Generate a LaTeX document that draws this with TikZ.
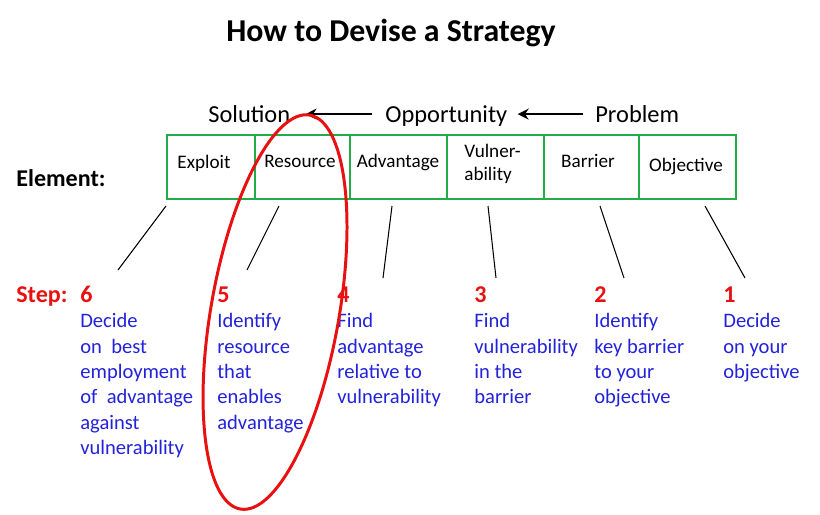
\documentclass[tikz,border=0pt]{standalone}
\usepackage{fontspec}
\setmainfont{Carlito}
\usepackage{tikz}
\usetikzlibrary{arrows.meta}

\definecolor{cellgreen}{RGB}{34,172,72}
\definecolor{stepred}{RGB}{232,16,16}
\definecolor{stepblue}{RGB}{34,34,218}

\tikzset{
  cell/.style={draw=cellgreen, line width=1.4pt, inner sep=0pt,
    anchor=north west, minimum height=12.8mm},
  celltext/.style={inner sep=0pt, anchor=base, font=\fontsize{10.9}{13}\selectfont},
  flow/.style={inner sep=0pt, anchor=base west, text height=11pt, text depth=2pt,
    font=\fontsize{13.9}{16}\selectfont},
  flowarrow/.style={line width=1.1pt, -{Stealth[length=2.2mm,width=2.2mm]}},
  rowlabel/.style={inner sep=0pt, anchor=base west, font=\fontsize{13.7}{16}\selectfont\bfseries},
  stepnum/.style={rowlabel, text=stepred},
  stepdesc/.style={inner sep=0pt, anchor=north west, align=left, text=stepblue,
    font=\fontsize{11.7}{14.45}\selectfont},
  pointer/.style={line width=0.6pt}
}

\begin{document}
\begin{tikzpicture}[x=0.2mm, y=-0.2mm]
  \useasboundingbox (0,0) rectangle (820,514);

  \node[inner sep=0pt, anchor=base, font=\fontsize{18.1}{21}\selectfont\bfseries]
    (title) at (391,41) {How to Devise a Strategy};

  % solution <- opportunity <- problem
  \node[flow] (sol) at (208,122) {Solution};
  \node[flow] (opp) at (385,122) {Opportunity};
  \node[flow] (prob) at (595,122) {Problem};
  \draw[flowarrow, shorten <=2.6mm, shorten >=3mm] (opp.west) -- (sol.east);
  \draw[flowarrow, shorten <=2.4mm, shorten >=2mm] (prob.west) -- (opp.east);

  % element row
  \node[rowlabel] (element) at (16,186) {Element:};
  \foreach \l/\r/\n in {166/254/exploit, 254/349/resource, 349/446/advantage,
                        446/543/vulner, 543/638/barrier, 638/735/objective}
    \node[cell, minimum width={(\r-\l)*0.2mm}] (\n) at (\l,134) {};

  \node[celltext] (tExploit) at (204,168) {Exploit};
  \node[celltext] (tResource) at (300,167) {Resource};
  \node[celltext] (tAdvantage) at (398,167) {Advantage};
  \node[celltext, anchor=north west, align=left] (tVulner) at (464,144) {Vulner-\\ability};
  \node[celltext] (tBarrier) at (588,167) {Barrier};
  \node[celltext] (tObjective) at (686,171) {Objective};

  % pointers from cells to steps
  \foreach \i/\ux/\dx/\dy in {1/166/118/270, 2/279/247/270, 3/392/383/278,
                              4/488/496/278, 5/600/624/278, 6/705/745/278} {
    \coordinate (up\i) at (\ux,206);
    \coordinate (down\i) at (\dx,\dy);
    \draw[pointer] (up\i) -- (down\i);
  }

  % steps
  \node[rowlabel, text=stepred] (step) at (16,302) {Step:};
  \foreach \x/\k in {80/6, 217/5, 337/4, 474/3, 594/2, 723/1}
    \node[stepnum] (num\k) at (\x,302) {\k};

  \node[stepdesc] (desc6) at (80,313)
    {Decide\\on~~best\\employment\\of~~advantage\\against\\vulnerability};
  \node[stepdesc] (desc5) at (217,313)
    {Identify\\resource\\that\\enables\\advantage};
  \node[stepdesc] (desc4) at (337,313)
    {Find\\advantage\\relative to\\vulnerability};
  \node[stepdesc] (desc3) at (474,313)
    {Find\\vulnerability\\in the\\barrier};
  \node[stepdesc] (desc2) at (594,313)
    {Identify\\key barrier\\to your\\objective};
  \node[stepdesc] (desc1) at (723,313)
    {Decide\\on your\\objective};

  % ring round the resource step
  \coordinate (ring) at (275,312);
  \draw[stepred, line width=1.7pt, rotate around={-10:(ring)}]
    (ring) ellipse [x radius=64, y radius=200];
\end{tikzpicture}
\end{document}
